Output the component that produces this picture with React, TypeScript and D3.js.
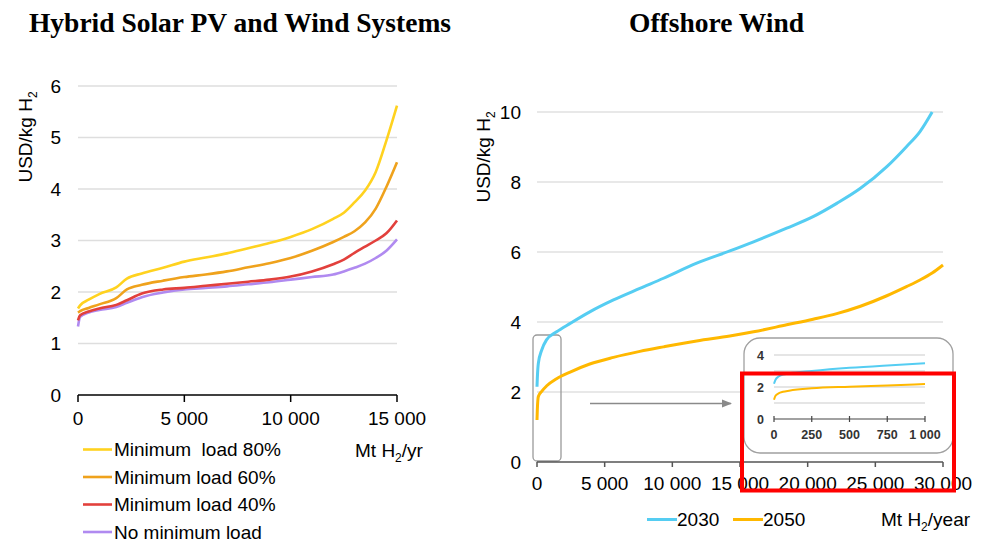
import React from "react";
import * as d3 from "d3";

// ---- Hybrid Solar PV and Wind Systems ----
const hybridX = [0, 100, 500, 1000, 1800, 2300, 3000, 4000, 5000, 6000, 7000, 8000, 9000, 10000, 11000, 12000, 12500, 13000, 13500, 14000, 14500, 15000];
const minLoad80 = [1.68, 1.74, 1.85, 1.96, 2.09, 2.26, 2.36, 2.47, 2.59, 2.67, 2.75, 2.85, 2.95, 3.07, 3.22, 3.42, 3.54, 3.74, 3.97, 4.33, 4.94, 5.62];
const minLoad60 = [1.6, 1.63, 1.69, 1.76, 1.88, 2.05, 2.14, 2.22, 2.29, 2.34, 2.4, 2.48, 2.56, 2.66, 2.8, 2.97, 3.07, 3.18, 3.35, 3.62, 4.04, 4.52];
const minLoad40 = [1.45, 1.55, 1.62, 1.68, 1.75, 1.84, 1.97, 2.05, 2.08, 2.12, 2.16, 2.2, 2.24, 2.3, 2.4, 2.54, 2.63, 2.76, 2.88, 3.0, 3.14, 3.39];
const noMinLoad = [1.33, 1.52, 1.6, 1.65, 1.71, 1.79, 1.9, 1.99, 2.05, 2.08, 2.11, 2.15, 2.19, 2.24, 2.29, 2.34, 2.4, 2.47, 2.55, 2.66, 2.8, 3.02];
const hybridSeriesNames = ["Minimum  load 80%", "Minimum load 60%", "Minimum load 40%", "No minimum load"];
const hybridYTicks = [0, 1, 2, 3, 4, 5, 6];
const hybridXTicks = [0, 5000, 10000, 15000];

// ---- Offshore Wind ----
const offshoreX = [0, 25, 100, 350, 700, 1450, 2450, 3900, 5650, 7600, 9350, 11800, 14250, 16000, 18450, 20400, 22150, 23900, 25850, 27300, 28300, 29200, 30000];
const offshore2030 = [2.15, 2.4, 2.82, 3.2, 3.49, 3.72, 3.96, 4.29, 4.63, 4.96, 5.25, 5.68, 6.03, 6.29, 6.68, 7.01, 7.39, 7.82, 8.44, 9.01, 9.44, 10.0, null];
const offshore2050 = [1.2, 1.5, 1.87, 2.02, 2.17, 2.38, 2.57, 2.8, 2.99, 3.16, 3.29, 3.46, 3.6, 3.72, 3.92, 4.08, 4.24, 4.45, 4.75, 5.01, 5.2, 5.4, 5.63];
const offshoreSeriesNames = ["2030", "2050"];
const offshoreYTicks = [0, 2, 4, 6, 8, 10];
const offshoreXTicks = [0, 5000, 10000, 15000, 20000, 25000, 30000];

// ---- Offshore Wind, first 1 000 Mt ----
const insetX = [0, 10, 30, 60, 100, 250, 500, 750, 1000];
const inset2030 = [2.2, 2.45, 2.65, 2.78, 2.85, 3.0, 3.2, 3.35, 3.48];
const inset2050 = [1.2, 1.45, 1.6, 1.7, 1.77, 1.92, 2.02, 2.1, 2.19];
const insetYGrid = [1, 2, 3, 4];
const insetYLabels = [0, 2, 4];
const insetXTicks = [0, 250, 500, 750, 1000];

const hybridColors = ["#FFD21F", "#EFA21C", "#E2403C", "#B08AF0"];
const offshoreColors = ["#55CDF2", "#FFB800"];

const fmt = d3
  .formatLocale({ decimal: ".", thousands: "\u2009", grouping: [3], currency: ["", ""] })
  .format(",");
const fmtSpace = (v: number) => fmt(v).replace("\u2009", " ");

const SANS = "Arial, 'Liberation Sans', Helvetica, sans-serif";
const SERIF = "'Times New Roman', 'Liberation Serif', serif";

type Pt = [number, number | null];

function pairs(xs: number[], ys: (number | null)[]): Pt[] {
  return xs.map((x, i) => [x, ys[i]] as Pt);
}

export default function App() {
  // left panel scales
  const hx = d3.scaleLinear().domain([0, 15000]).range([78, 397]);
  const hy = d3.scaleLinear().domain([0, 6]).range([395, 86]);
  // right panel scales
  const ox = d3.scaleLinear().domain([0, 30000]).range([537, 943]);
  const oy = d3.scaleLinear().domain([0, 10]).range([462, 112]);
  // inset scales
  const ix = d3.scaleLinear().domain([0, 1000]).range([774, 925]);
  const iy = d3.scaleLinear().domain([0, 4]).range([419, 355]);

  const mkLine = (sx: d3.ScaleLinear<number, number>, sy: d3.ScaleLinear<number, number>) =>
    d3
      .line<Pt>()
      .defined((d) => d[1] !== null)
      .x((d) => sx(d[0]))
      .y((d) => sy(d[1] as number))
      .curve(d3.curveMonotoneX);

  const hLine = mkLine(hx, hy);
  const oLine = mkLine(ox, oy);
  const iLine = mkLine(ix, iy);

  const hybridSeries = [minLoad80, minLoad60, minLoad40, noMinLoad];
  const offshoreSeries = [offshore2030, offshore2050];
  const insetSeries = [inset2030, inset2050];

  return (
    <div style={{ position: "absolute", left: 0, top: 0 }}>
      <svg width={984} height={541} style={{ display: "block", background: "#fff" }}>
        <defs>
          <marker id="arrowHead" viewBox="0 0 10 10" refX="9" refY="5" markerWidth="7" markerHeight="7" orient="auto">
            <path d="M0,1 L10,5 L0,9 z" fill="#8a8a8a" />
          </marker>
        </defs>

        {/* Titles */}
        <text x={240} y={32} textAnchor="middle" fontFamily={SERIF} fontWeight="bold" fontSize={27.5} fill="#000">
          Hybrid Solar PV and Wind Systems
        </text>
        <text x={716.5} y={32} textAnchor="middle" fontFamily={SERIF} fontWeight="bold" fontSize={27.5} fill="#000">
          Offshore Wind
        </text>

        {/* ===== Left panel ===== */}
        <g fontFamily={SANS}>
          {hybridYTicks
            .filter((t) => t > 0)
            .map((t) => (
              <line key={"hg" + t} x1={hx(0)} x2={hx(15000)} y1={hy(t)} y2={hy(t)} stroke="#dedede" strokeWidth={1.5} />
            ))}
          {hybridYTicks.map((t) => (
            <text key={"hyl" + t} x={61} y={hy(t) + 6.5} textAnchor="end" fontSize={19} fill="#000">
              {t}
            </text>
          ))}
          <line x1={hx(0)} x2={hx(15000)} y1={hy(0)} y2={hy(0)} stroke="#000" strokeWidth={1.5} />
          {hybridXTicks.map((t) => (
            <g key={"hxt" + t}>
              <line x1={hx(t)} x2={hx(t)} y1={hy(0)} y2={hy(0) + 7} stroke="#000" strokeWidth={1.5} />
              <text x={hx(t)} y={425} textAnchor="middle" fontSize={19} fill="#000">
                {fmtSpace(t)}
              </text>
            </g>
          ))}
          <text transform={`translate(32,${137}) rotate(-90)`} textAnchor="middle" fontSize={19} fill="#000">
            USD/kg H<tspan fontSize={12} dy={5}>2</tspan>
          </text>
          <text x={355} y={457} fontSize={19} fill="#000">
            Mt H<tspan fontSize={12} dy={5}>2</tspan>
            <tspan dy={-5}>/yr</tspan>
          </text>

          {[3, 2, 1, 0].map((i) => (
            <path
              key={"hs" + i}
              d={hLine(pairs(hybridX, hybridSeries[i])) || ""}
              fill="none"
              stroke={hybridColors[i]}
              strokeWidth={2.6}
              strokeLinejoin="round"
            />
          ))}

          {hybridSeriesNames.map((name, i) => {
            const y = 449.5 + i * 27.5;
            return (
              <g key={"hl" + i}>
                <line x1={83} x2={112} y1={y} y2={y} stroke={hybridColors[i]} strokeWidth={2.6} />
                <text x={114} y={y + 6.5} fontSize={19} fill="#000" style={{ whiteSpace: "pre" }}>
                  {name}
                </text>
              </g>
            );
          })}
        </g>

        {/* ===== Right panel ===== */}
        <g fontFamily={SANS}>
          {offshoreYTicks
            .filter((t) => t > 0)
            .map((t) => (
              <line key={"og" + t} x1={ox(0)} x2={ox(30000)} y1={oy(t)} y2={oy(t)} stroke="#e0e0e0" strokeWidth={1.5} />
            ))}
          {offshoreYTicks.map((t) => (
            <text key={"oyl" + t} x={521} y={oy(t) + 6.5} textAnchor="end" fontSize={19} fill="#000">
              {t}
            </text>
          ))}
          <text transform={`translate(490,${157}) rotate(-90)`} textAnchor="middle" fontSize={19} fill="#000">
            USD/kg H<tspan fontSize={12} dy={5}>2</tspan>
          </text>

          {/* zoom-region marker near the origin */}
          <rect x={533} y={335} width={28} height={126} rx={4} ry={4} fill="none" stroke="#9a9a9a" strokeWidth={1.3} />

          {[1, 0].map((i) => (
            <path
              key={"os" + i}
              d={oLine(pairs(offshoreX, offshoreSeries[i])) || ""}
              fill="none"
              stroke={offshoreColors[i]}
              strokeWidth={3}
              strokeLinejoin="round"
            />
          ))}

          <line x1={ox(0)} x2={ox(30000)} y1={oy(0)} y2={oy(0)} stroke="#555" strokeWidth={1.5} />
          {offshoreXTicks.map((t) => (
            <g key={"oxt" + t}>
              <line x1={ox(t)} x2={ox(t)} y1={oy(0)} y2={oy(0) + 5} stroke="#555" strokeWidth={1.5} />
              <text x={ox(t)} y={490} textAnchor="middle" fontSize={19} fill="#000">
                {fmtSpace(t)}
              </text>
            </g>
          ))}

          {/* arrow to the inset */}
          <line x1={590} x2={731} y1={403.5} y2={403.5} stroke="#8a8a8a" strokeWidth={1.5} markerEnd="url(#arrowHead)" />

          {/* inset panel */}
          <rect x={744} y={338} width={209} height={115} rx={16} ry={16} fill="#fff" stroke="#a0a0a0" strokeWidth={1.3} />
          {insetYGrid.map((t) => (
            <line key={"ig" + t} x1={ix(0)} x2={ix(1000)} y1={iy(t)} y2={iy(t)} stroke="#dcdcdc" strokeWidth={1.3} />
          ))}
          {insetYLabels.map((t) => (
            <text key={"iyl" + t} x={764} y={iy(t) + 4.5} textAnchor="end" fontSize={12.5} fontWeight="bold" fill="#333">
              {t}
            </text>
          ))}
          {[1, 0].map((i) => (
            <path
              key={"is" + i}
              d={iLine(pairs(insetX, insetSeries[i])) || ""}
              fill="none"
              stroke={offshoreColors[i]}
              strokeWidth={2}
              strokeLinejoin="round"
            />
          ))}
          <line x1={ix(0)} x2={ix(1000)} y1={iy(0)} y2={iy(0)} stroke="#444" strokeWidth={1.2} />
          {insetXTicks.map((t) => (
            <g key={"ixt" + t}>
              <line x1={ix(t)} x2={ix(t)} y1={iy(0) - 3} y2={iy(0) + 3} stroke="#444" strokeWidth={1.2} />
              <text x={ix(t)} y={439} textAnchor="middle" fontSize={12.5} fontWeight="bold" fill="#333">
                {fmtSpace(t)}
              </text>
            </g>
          ))}

          {/* highlight box */}
          <rect x={742} y={373.5} width={212} height={117} fill="none" stroke="#FF0000" strokeWidth={4} />

          {/* legend */}
          {offshoreSeriesNames.map((name, i) => {
            const x0 = i === 0 ? 647 : 733;
            return (
              <g key={"ol" + i}>
                <line x1={x0} x2={x0 + 30} y1={519.5} y2={519.5} stroke={offshoreColors[i]} strokeWidth={3} />
                <text x={x0 + 30} y={526} fontSize={19} fill="#000">
                  {name}
                </text>
              </g>
            );
          })}
          <text x={881} y={526} fontSize={19} fill="#000">
            Mt H<tspan fontSize={12} dy={5}>2</tspan>
            <tspan dy={-5}>/year</tspan>
          </text>
        </g>
      </svg>
    </div>
  );
}
